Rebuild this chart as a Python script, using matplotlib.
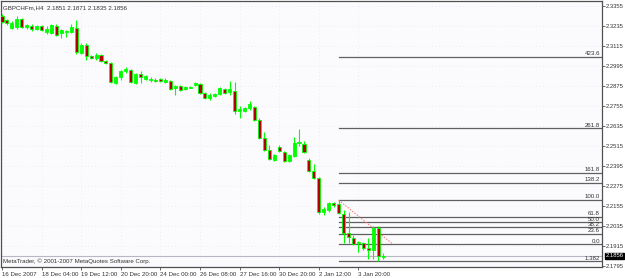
import matplotlib
matplotlib.use('Agg')
import matplotlib.pyplot as plt
import numpy as np

plt.rcParams['font.family'] = ['Liberation Sans', 'DejaVu Sans']

# GBPCHFm H4 candles (open, high, low, close)
opens = [2.3295, 2.3271, 2.3223, 2.3229, 2.3277, 2.3229, 2.3235, 2.3217, 2.3235, 2.3199,
         2.3193, 2.3235, 2.3193, 2.3199, 2.3199, 2.3223, 2.3073, 2.3121, 2.3055, 2.3043,
         2.3061, 2.3025, 2.3013, 2.2893, 2.2929, 2.2965, 2.2971, 2.2893, 2.2947, 2.2917,
         2.2911, 2.2911, 2.2917, 2.2899, 2.2905, 2.2863, 2.2875, 2.2857, 2.2863, 2.2881,
         2.2887, 2.2833, 2.2803, 2.2815, 2.2827, 2.2857, 2.2839, 2.2845, 2.2725, 2.2725,
         2.2743, 2.2749, 2.2671, 2.2563, 2.2491, 2.2431, 2.2509, 2.2479, 2.2425, 2.2455,
         2.2533, 2.2527, 2.2431, 2.2365, 2.2323, 2.2119, 2.2131, 2.2173, 2.2167, 2.2107,
         2.1993, 2.1963, 2.1933, 2.1933, 2.1903, 2.1891, 2.2023, 2.1851]
highs = [2.3307, 2.3277, 2.3265, 2.3295, 2.3283, 2.3247, 2.3247, 2.3241, 2.3241, 2.3235,
         2.3247, 2.3247, 2.3217, 2.3211, 2.3247, 2.3271, 2.3133, 2.3133, 2.3061, 2.3073,
         2.3067, 2.3031, 2.3019, 2.2935, 2.2971, 2.2989, 2.2977, 2.2953, 2.2965, 2.2941,
         2.2929, 2.2923, 2.2923, 2.2923, 2.2911, 2.2881, 2.2881, 2.2875, 2.2875, 2.2899,
         2.2893, 2.2839, 2.2833, 2.2833, 2.2869, 2.2863, 2.2905, 2.2899, 2.2755, 2.2749,
         2.2785, 2.2755, 2.2683, 2.2599, 2.2521, 2.2467, 2.2521, 2.2485, 2.2467, 2.2569,
         2.2617, 2.2545, 2.2443, 2.2407, 2.2329, 2.2149, 2.2179, 2.2179, 2.2191, 2.2131,
         2.2119, 2.1981, 2.1945, 2.1939, 2.1963, 2.2035, 2.2035, 2.1871]
lows = [2.3253, 2.3241, 2.3217, 2.3217, 2.3223, 2.3217, 2.3205, 2.3211, 2.3205, 2.3187,
        2.3187, 2.3175, 2.3163, 2.3169, 2.3193, 2.3067, 2.3067, 2.3031, 2.3037, 2.3031,
        2.3019, 2.3007, 2.2893, 2.2887, 2.2911, 2.2953, 2.2893, 2.2887, 2.2893, 2.2911,
        2.2899, 2.2899, 2.2899, 2.2893, 2.2851, 2.2821, 2.2845, 2.2851, 2.2863, 2.2875,
        2.2827, 2.2797, 2.2791, 2.2809, 2.2821, 2.2827, 2.2821, 2.2707, 2.2683, 2.2719,
        2.2731, 2.2665, 2.2557, 2.2485, 2.2431, 2.2425, 2.2479, 2.2419, 2.2419, 2.2449,
        2.2515, 2.2473, 2.2359, 2.2317, 2.2107, 2.2101, 2.2119, 2.2149, 2.2107, 2.1933,
        2.1933, 2.1921, 2.1879, 2.1891, 2.1837, 2.1837, 2.1825, 2.1835]
closes = [2.3259, 2.3253, 2.3253, 2.3277, 2.3229, 2.3241, 2.3217, 2.3235, 2.3211, 2.3217,
          2.3241, 2.3181, 2.3211, 2.3205, 2.3229, 2.3079, 2.3121, 2.3055, 2.3043, 2.3061,
          2.3025, 2.3013, 2.2899, 2.2929, 2.2965, 2.2977, 2.2899, 2.2947, 2.2929, 2.2935,
          2.2917, 2.2905, 2.2905, 2.2911, 2.2857, 2.2875, 2.2851, 2.2869, 2.2869, 2.2893,
          2.2833, 2.2803, 2.2821, 2.2827, 2.2863, 2.2833, 2.2857, 2.2725, 2.2737, 2.2743,
          2.2767, 2.2671, 2.2563, 2.2491, 2.2437, 2.2461, 2.2485, 2.2425, 2.2461, 2.2533,
          2.2539, 2.2479, 2.2365, 2.2323, 2.2119, 2.2137, 2.2173, 2.2161, 2.2113, 2.1993,
          2.1969, 2.1927, 2.1939, 2.1903, 2.1891, 2.2023, 2.1855, 2.1856]

date_labels = ['16 Dec 2007', '18 Dec 04:00', '19 Dec 12:00', '20 Dec 20:00', '24 Dec 00:00',
               '26 Dec 08:00', '27 Dec 16:00', '30 Dec 20:00', '2 Jan 12:00', '3 Jan 20:00']
price_ticks = [2.3355, 2.3235, 2.3115, 2.2995, 2.2875, 2.2755, 2.2635,
               2.2515, 2.2395, 2.2275, 2.2155, 2.2035, 2.1915, 2.1795]

# fibonacci retracement drawn from bar 68 high to the swing low
fib_start = 68
fib_end = 79
fib_high = 2.2191
fib_low = 2.1925
fib_levels = [423.6, 261.8, 161.8, 138.2, 100.0, 61.8, 50.0, 38.2, 23.6, 0.0, -38.2]
fib_texts = ['423.6', '261.8', '161.8', '138.2', '100.0', '61.8', '50.0', '38.2', '23.6', '0.0', '1.382']

bid = 2.1856
header = 'GBPCHFm,H4  2.1851 2.1871 2.1835 2.1856'
copyright_txt = 'MetaTrader, \u00a9 2001-2007 MetaQuotes Software Corp.'

fs = 4.4
txt_col = '#333333'
bull_col = '#00ff00'
bear_col = '#b40000'
x_right = 121.2

fig = plt.figure(figsize=(6.25, 2.78), dpi=100, facecolor='white')
ax = fig.add_axes([1 / 625, 11 / 278, 601 / 625, 266 / 278])
ax.set_facecolor('#fbfafd')
ax.set_xlim(-0.2, x_right)
ax.set_ylim(2.1789, 2.3385)

x = np.arange(len(opens))
o = np.array(opens)
c = np.array(closes)
up = c >= o

# wicks
ax.vlines(x, lows, highs, color=bull_col, lw=0.8, zorder=3)
# bodies
body_h = np.maximum(np.abs(c - o), 0.00005)
ax.bar(x[up], body_h[up], bottom=np.minimum(o, c)[up], width=0.62,
       color=bull_col, edgecolor=bull_col, lw=0.6, zorder=4)
ax.bar(x[~up], body_h[~up], bottom=np.minimum(o, c)[~up], width=0.62,
       color=bear_col, edgecolor=bull_col, lw=0.6, zorder=4)

# bid line
ax.axhline(bid, color='#b8b8c4', lw=0.8, zorder=1)

# fibo lines and labels
rng = fib_high - fib_low
for lvl, t in zip(fib_levels, fib_texts):
    yv = fib_low + rng * lvl / 100.0
    ax.plot([fib_start, x_right], [yv, yv], color='#606060', lw=0.9, zorder=2)
    ax.text(x_right - 0.4, yv + 0.0004, t, ha='right', va='bottom', fontsize=fs,
            color=txt_col, zorder=5)
ax.plot([fib_start, fib_end], [fib_high, fib_low], color='#ff7070', lw=0.7,
        ls=(0, (1.5, 1.5)), zorder=2)

# grid of faint dots
ax.grid(True, color='#e4e0ea', lw=0.5, ls=(0, (1, 4)))
ax.set_axisbelow(True)

# axes styling
for side in ['left', 'right', 'top', 'bottom']:
    ax.spines[side].set_color('#505050')
    ax.spines[side].set_linewidth(0.9)

ax.yaxis.tick_right()
ax.set_yticks(price_ticks)
ax.set_yticklabels(['%.4f' % p for p in price_ticks])
ax.tick_params(axis='y', length=2, width=0.6, color='#505050', pad=0.6,
               labelsize=4.2, labelcolor=txt_col)

ax.set_xticks(np.arange(len(date_labels)) * 8)
ax.set_xticklabels(date_labels)
ax.tick_params(axis='x', length=2.5, width=0.6, color='#505050', pad=0.8,
               labelsize=fs, labelcolor=txt_col)
for lab in ax.get_xticklabels():
    lab.set_ha('left')

# bid price box on the axis
ax.text(1.006, bid, '%.4f' % bid, transform=ax.get_yaxis_transform(), ha='left', va='center',
        fontsize=4.2, color='white', clip_on=False,
        bbox=dict(boxstyle='square,pad=0.12', fc='black', ec='black'))

ax.text(0.004, 0.985, header, transform=ax.transAxes, ha='left', va='top',
        fontsize=fs, color=txt_col)
ax.text(0.004, 0.012, copyright_txt, transform=ax.transAxes, ha='left', va='bottom',
        fontsize=fs, color=txt_col)

fig.savefig('out.png', dpi=100, facecolor='white')
